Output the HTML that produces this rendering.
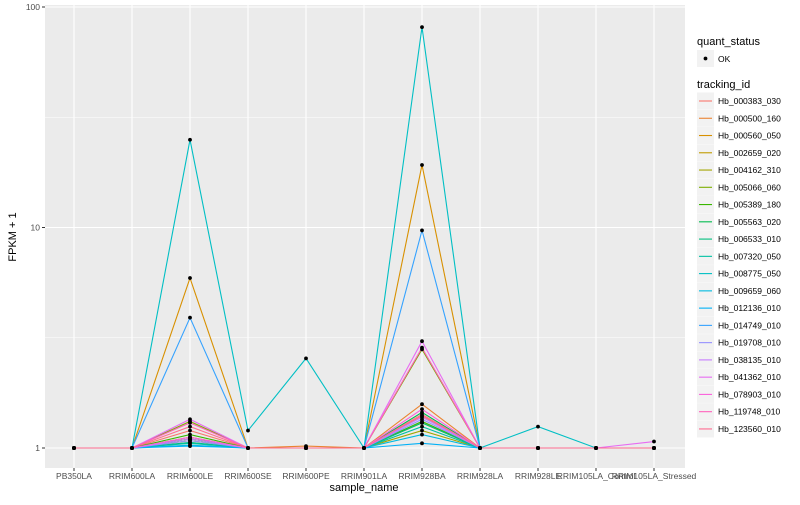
<!DOCTYPE html>
<html><head><meta charset="utf-8"><style>
body{margin:0;background:#fff;font-family:"Liberation Sans",sans-serif}
svg text{font-family:"Liberation Sans",sans-serif}
</style></head><body>
<svg id="c" width="800" height="500" viewBox="0 0 800 500"></svg>
<script>
const categories=["PB350LA","RRIM600LA","RRIM600LE","RRIM600SE","RRIM600PE","RRIM901LA","RRIM928BA","RRIM928LA","RRIM928LE","RRIM105LA_Control","RRIM105LA_Stressed"];
const seriesNames=["Hb_000383_030","Hb_000500_160","Hb_000560_050","Hb_002659_020","Hb_004162_310","Hb_005066_060","Hb_005389_180","Hb_005563_020","Hb_006533_010","Hb_007320_050","Hb_008775_050","Hb_009659_060","Hb_012136_010","Hb_014749_010","Hb_019708_010","Hb_038135_010","Hb_041362_010","Hb_078903_010","Hb_119748_010","Hb_123560_010"];
const seriesColors=["#F8766D","#EA8331","#D89000","#C09B00","#A3A500","#7CAE00","#39B600","#00BB4E","#00BF7D","#00C1A3","#00BFC4","#00BAE0","#00B0F6","#35A2FF","#9590FF","#C77CFF","#E76BF3","#FA62DB","#FF62BC","#FF6C91"];
const s00=[1,1,1.2,1,1,1,1.4,1,1,1,1];
const s01=[1,1,1.1,1,1.02,1,1.58,1,1,1,1];
const s02=[1,1,5.9,1,1,1,19.2,1,1,1,1];
const s03=[1,1,1.08,1,1,1,1.3,1,1,1,1];
const s04=[1,1,1.12,1,1,1,1.2,1,1,1,1];
const s05=[1,1,1.32,1,1,1,2.8,1,1,1,1];
const s06=[1,1,1.15,1,1,1,1.32,1,1,1,1];
const s07=[1,1,1.1,1,1,1,1.45,1,1,1,1];
const s08=[1,1,1.06,1,1,1,1.3,1,1,1,1];
const s09=[1,1,1.05,1,1,1,1.25,1,1,1,1];
const s10=[1,1,25,1.2,2.55,1,81,1,1.25,1,1];
const s11=[1,1,1.03,1,1,1,1.15,1,1,1,1];
const s12=[1,1,1.02,1,1,1,1.05,1,1,1,1];
const s13=[1,1,3.9,1,1,1,9.7,1,1,1,1];
const s14=[1,1,1.08,1,1,1,1.35,1,1,1,1];
const s15=[1,1,1.1,1,1,1,1.38,1,1,1,1];
const s16=[1,1,1.35,1,1,1,3.05,1,1,1,1.07];
const s17=[1,1,1.12,1,1,1,1.5,1,1,1,1];
const s18=[1,1,1.3,1,1,1,2.85,1,1,1,1];
const s19=[1,1,1.25,1,1,1,1.42,1,1,1,1];
const seriesValues=[s00,s01,s02,s03,s04,s05,s06,s07,s08,s09,s10,s11,s12,s13,s14,s15,s16,s17,s18,s19];
const yTicks=[1,10,100];
const yTickLabels=["1","10","100"];
const yMinor=[3.1623,31.623];

const NS="http://www.w3.org/2000/svg";
const svg=document.getElementById('c');
function el(t,a,p){const e=document.createElementNS(NS,t);for(const k in a)e.setAttribute(k,a[k]);(p||svg).appendChild(e);return e;}
const PL=45,PR=685,PT=5,PB=468;
function xs(i){return 74+i*58;}
function ys(v){return 448-Math.log10(v)*220.5;}

const panel=el('rect',{x:PL,y:PT,width:PR-PL,height:PB-PT,fill:'#EBEBEB'});


yMinor.forEach(v=>{const l=el('line',{x1:PL,x2:PR,y1:ys(v),y2:ys(v),stroke:'#fff','stroke-width':0.5});

});
yTicks.forEach((v,i)=>{const l=el('line',{x1:PL,x2:PR,y1:ys(v),y2:ys(v),stroke:'#fff','stroke-width':1.1});


el('line',{x1:PL-3,x2:PL,y1:ys(v),y2:ys(v),stroke:'#333','stroke-width':1});
const t=el('text',{x:PL-5,y:ys(v)+3,'text-anchor':'end','font-size':8.5,fill:'#4D4D4D'});t.textContent=yTickLabels[i];

});
categories.forEach((c,i)=>{const l=el('line',{x1:xs(i),x2:xs(i),y1:PT,y2:PB,stroke:'#fff','stroke-width':1.1});


el('line',{x1:xs(i),x2:xs(i),y1:PB,y2:PB+3,stroke:'#333','stroke-width':1});
const t=el('text',{x:xs(i),y:PB+11,'text-anchor':'middle','font-size':8.5,fill:'#4D4D4D'});t.textContent=c;

});

seriesValues.forEach((vals,k)=>{
const p=el('polyline',{points:vals.map((v,i)=>xs(i)+','+ys(v)).join(' '),fill:'none',stroke:seriesColors[k],'stroke-width':1.1});

});
seriesValues.forEach((vals,k)=>{vals.forEach((v,i)=>{
const d=el('circle',{cx:xs(i),cy:ys(v),r:1.9,fill:'#000'});

});});

let t=el('text',{x:364,y:491,'text-anchor':'middle','font-size':11,fill:'#000'});t.textContent='sample_name';


t=el('text',{x:16,y:237,'text-anchor':'middle','font-size':11,fill:'#000',transform:'rotate(-90 16 237)'});t.textContent='FPKM + 1';



t=el('text',{x:697,y:45,'font-size':11,fill:'#000'});t.textContent='quant_status';


el('rect',{x:697,y:50,width:17,height:17,fill:'#F2F2F2'});
el('circle',{cx:705.5,cy:58.5,r:1.9,fill:'#000'});
t=el('text',{x:718,y:62,'font-size':8.5,fill:'#000'});t.textContent='OK';


t=el('text',{x:697,y:88,'font-size':11,fill:'#000'});t.textContent='tracking_id';


seriesNames.forEach((n,k)=>{const y=101+k*17.26;
el('rect',{x:697,y:y-8.5,width:17,height:17,fill:'#F2F2F2'});
el('line',{x1:699,x2:712,y1:y,y2:y,stroke:seriesColors[k],'stroke-width':1.1});
const tt=el('text',{x:718,y:y+3,'font-size':8.5,fill:'#000'});tt.textContent=n;

});
</script>
</body></html>
